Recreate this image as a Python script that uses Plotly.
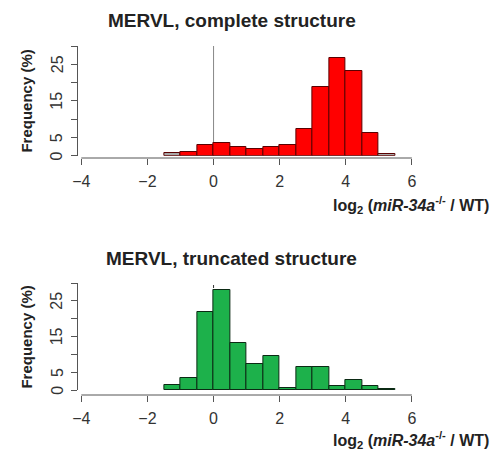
import plotly.graph_objects as go

# ---- data ----
bin_centers = [-1.25, -0.75, -0.25, 0.25, 0.75, 1.25, 1.75, 2.25, 2.75, 3.25, 3.75, 4.25, 4.75, 5.25]
complete_freq = [0.7, 1.1, 2.9, 3.4, 2.4, 1.7, 2.4, 2.9, 7.2, 18.9, 26.7, 23.1, 6.1, 0.6]
truncated_freq = [1.4, 3.3, 21.9, 27.9, 13.3, 7.3, 9.5, 0.5, 6.5, 6.5, 1.2, 2.9, 1.1, 0.3]
x_ticks = [-4, -2, 0, 2, 4, 6]
y_ticks = [0, 5, 10, 15, 20, 25, 30]
y_label_vals = [0, 5, 15, 25]
titles = ["MERVL, complete structure", "MERVL, truncated structure"]
x_title = "log<sub>2</sub> (<i>miR-34a</i><sup>-/-</sup> / WT)"
y_title = "Frequency (%)"

W, H = 503, 457
def fx(px):
    return px / W
def fy(py):
    return (H - py) / H

RED = "#ff0000"
GREY = "#a8a8a8"
GREEN = "#1db14b"
font = "Liberation Sans, Arial, sans-serif"

top_colors = [GREY if (c < -1 or c > 5) else RED for c in bin_centers]

# x scale: -4 at 77 px, 6 at 415 px; y axis line at 74 px
px_per_unit = (415 - 77) / 10.0
x_lo = -4 - (77 - 74) / px_per_unit

fig = go.Figure()
fig.add_trace(go.Bar(x=bin_centers, y=complete_freq, width=0.5,
                     marker=dict(color=top_colors, line=dict(color="#5a0000", width=1)),
                     xaxis="x", yaxis="y", showlegend=False))
fig.add_trace(go.Bar(x=bin_centers, y=truncated_freq, width=0.5,
                     marker=dict(color=GREEN, line=dict(color="#0b2a14", width=1)),
                     xaxis="x2", yaxis="y2", showlegend=False))

xcommon = dict(range=[x_lo, 6], tickvals=x_ticks, ticks="outside", ticklen=6, tickwidth=1,
               tickcolor="#555", showline=False, showgrid=False, zeroline=False,
               anchor="free",
               tickfont=dict(family=font, size=16, color="#333"), ticklabelstandoff=3)
ycommon = dict(range=[0, 30], tickvals=y_ticks, ticks="outside",
               ticklen=6, tickwidth=1, tickcolor="#555", showline=True, linecolor="#555",
               linewidth=1, showgrid=False, zeroline=False, showticklabels=False)

fig.update_layout(
    width=W, height=H, margin=dict(l=0, r=0, t=0, b=0),
    paper_bgcolor="white", plot_bgcolor="white", bargap=0,
    xaxis=dict(xcommon, domain=[fx(74), fx(415)], position=fy(158)),
    yaxis=dict(ycommon, domain=[fy(155.7), fy(46)], anchor="x"),
    xaxis2=dict(xcommon, domain=[fx(74), fx(415)], position=fy(395)),
    yaxis2=dict(ycommon, domain=[fy(390), fy(283)], anchor="x2"),
    shapes=[
        dict(type="line", xref="x", yref="paper", x0=-4, x1=6, y0=fy(158), y1=fy(158),
             line=dict(color="#555", width=1)),
        dict(type="line", xref="x2", yref="paper", x0=-4, x1=6, y0=fy(395), y1=fy(395),
             line=dict(color="#555", width=1)),
        dict(type="line", xref="x", yref="y", x0=0, x1=0, y0=0, y1=30,
             line=dict(color="#888", width=1), layer="below"),
        dict(type="line", xref="x2", yref="y2", x0=0, x1=0, y0=0, y1=30,
             line=dict(color="#333", width=1, dash="dot"), layer="below"),
    ],
)

ann = []
for t, ty in zip(titles, [20, 258]):
    ann.append(dict(text="<b>%s</b>" % t, x=fx(231), y=fy(ty), xref="paper", yref="paper",
                    showarrow=False, xanchor="center", yanchor="middle",
                    font=dict(family=font, size=19, color="#222")))
for ty in [205, 440]:
    ann.append(dict(text="<b>%s</b>" % x_title, x=fx(496), y=fy(ty), xref="paper", yref="paper",
                    showarrow=False, xanchor="right", yanchor="middle",
                    font=dict(family=font, size=16, color="#222")))
for ty in [101, 337]:
    ann.append(dict(text="<b>%s</b>" % y_title, x=fx(20), y=fy(ty), xref="paper", yref="paper",
                    showarrow=False, xanchor="center", yanchor="middle", textangle=-90,
                    font=dict(family=font, size=15, color="#222")))
# y tick labels (R style: parallel to axis, some labels omitted)
for yref in ["y", "y2"]:
    for v in y_label_vals:
        ann.append(dict(text=str(v), x=fx(52), y=v, xref="paper", yref=yref,
                        showarrow=False, xanchor="center", yanchor="middle", textangle=-90,
                        font=dict(family=font, size=16, color="#333")))
fig.update_layout(annotations=ann)

fig.write_html("out.html")
